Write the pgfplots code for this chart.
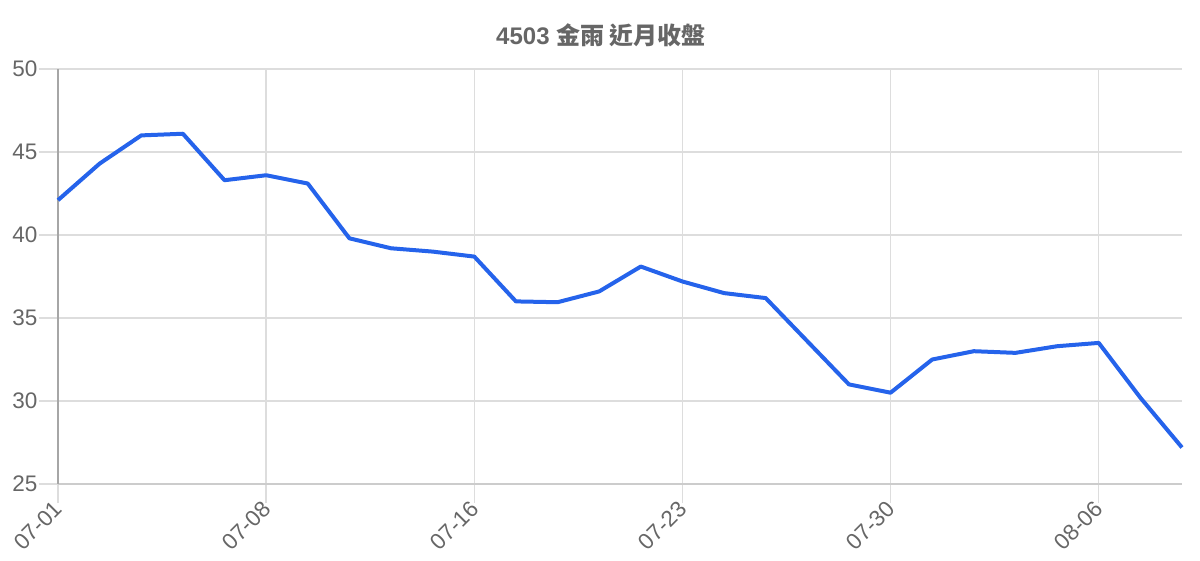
\documentclass[border=0pt]{standalone}
\usepackage{pgfplots}
\pgfplotsset{compat=1.18}
\usepackage{fontspec}
\setmainfont{Liberation Sans}
\newfontfamily\cjk{Noto Sans CJK TC}
\definecolor{lineblue}{HTML}{2563EB}
\definecolor{txtgray}{HTML}{666666}
\definecolor{gridgray}{HTML}{DDDDDD}
\begin{document}
\begin{tikzpicture}
\useasboundingbox (0,0) rectangle (1200pt,560pt);
\begin{axis}[
  at={(58pt,76pt)}, anchor=south west,
  scale only axis, width=1124pt, height=415pt,
  xmin=0, xmax=27, ymin=25, ymax=50,
  xtick={0,5,10,15,20,25},
  xticklabels={07-01,07-08,07-16,07-23,07-30,08-06},
  ytick={25,30,35,40,45,50},
  grid=major,
  major grid style={draw=gridgray, line width=1.3pt},
  tick align=outside,
  major tick length=19pt,
  tick style={draw=gridgray, line width=1.3pt},
  axis x line*=bottom, axis y line*=left,
  x axis line style={draw=black!20, line width=1.4pt, -},
  y axis line style={draw=black!35, line width=1.4pt, -},
  /pgf/number format/assume math mode=true,
  ticklabel style={font=\fontsize{22.5}{26}\selectfont, text=txtgray},
  yticklabel style={anchor=east, xshift=2pt},
  xticklabel style={rotate=45, anchor=east, xshift=2pt, yshift=-2pt},
  clip=false,
]
\addplot[lineblue, line width=4pt, line join=round] coordinates {
(0,42.1) (1,44.3) (2,46.0) (3,46.1) (4,43.3) (5,43.6) (6,43.1) (7,39.8)
(8,39.2) (9,39.0) (10,38.7) (11,36.0) (12,35.95) (13,36.6) (14,38.1)
(15,37.2) (16,36.5) (17,36.2) (18,33.6) (19,31.0) (20,30.5) (21,32.5)
(22,33.0) (23,32.9) (24,33.3) (25,33.5) (26,30.2) (27,27.2)
};
\end{axis}
\node[text=txtgray, font=\fontsize{24}{28}\selectfont\bfseries] at (601pt,525pt) {4503 {\cjk\bfseries 金雨 近月收盤}};
\end{tikzpicture}
\end{document}
